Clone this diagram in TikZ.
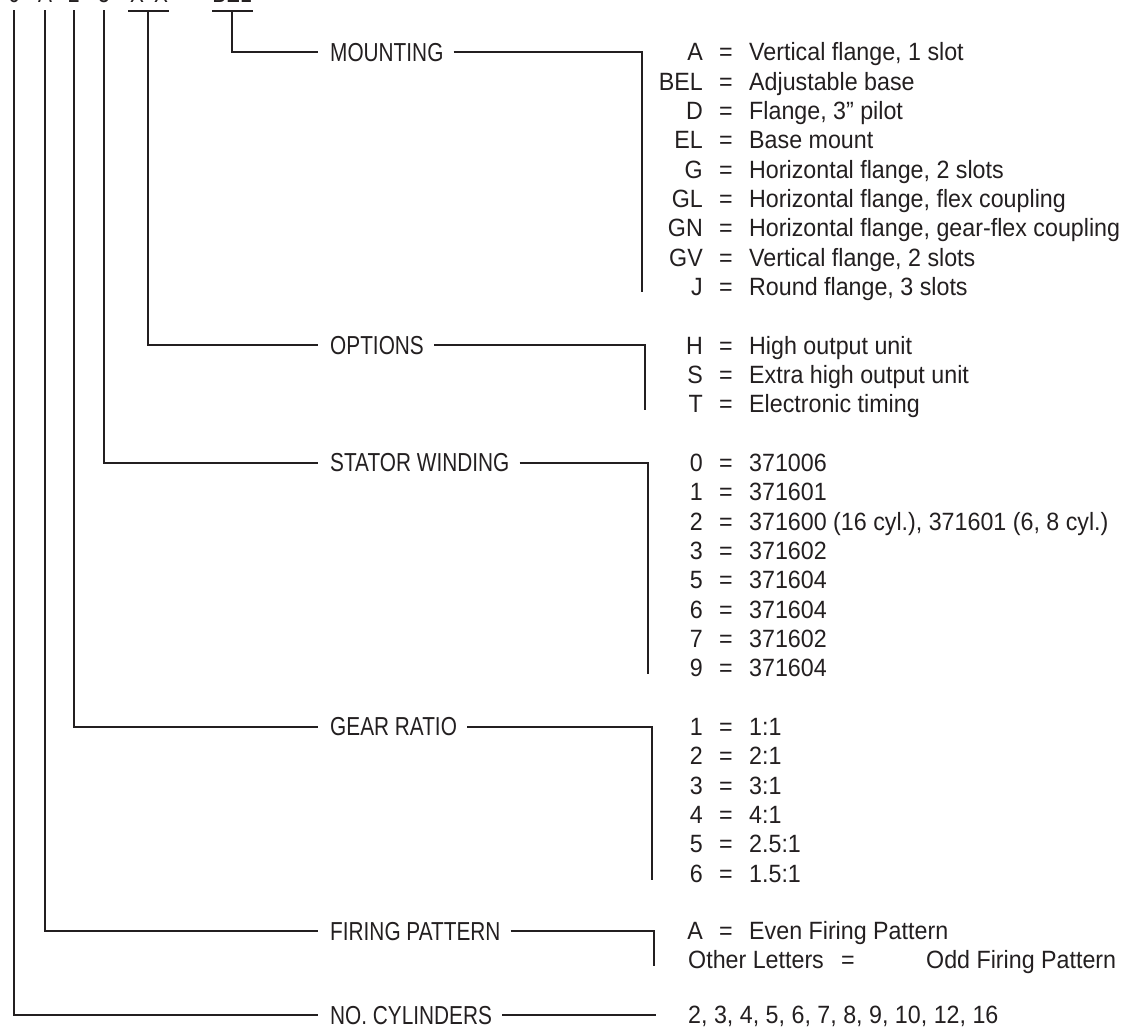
\documentclass[tikz,border=0pt]{standalone}
\usepackage{fontspec}
\setmainfont{Liberation Sans}
\newfontfamily\lblfont[FakeStretch=0.8]{Liberation Sans}
\newfontfamily\itmfont[FakeStretch=0.93]{Liberation Sans}
\definecolor{ink}{HTML}{231F20}
\newcommand\myrow[4]{%
  \node[itm,anchor=base east] (#1k) at (703,#2+8.9) {#3};
  \node[itm,anchor=base] (#1e) at (726,#2+8.9) {=};
  \node[itm,anchor=base west] (#1d) at (749,#2+8.9) {#4};}
\begin{document}
\begin{tikzpicture}[x=1pt,y=-1pt,
  ln/.style={draw=ink,line width=2.1pt},
  lbl/.style={font=\lblfont\fontsize{26}{26}\selectfont,text=ink,inner sep=0pt,anchor=base west},
  itm/.style={font=\itmfont\fontsize{25}{29}\selectfont,text=ink,inner sep=0pt},
  topc/.style={font=\lblfont\fontsize{26}{26}\selectfont,text=ink,inner sep=0pt,anchor=base},
]
\useasboundingbox (0,0) rectangle (1141,1031);
\clip (0,0) rectangle (1141,1031);
% top code (cut off at the top edge, as in the reference)
\node[topc] (t1) at (14,2.5) {6};
\node[topc] (t2) at (45,2.5) {A};
\node[topc] (t3) at (74,2.5) {2};
\node[topc] (t4) at (104,2.5) {3};
\node[topc] (t5) at (137,2.5) {X};
\node[topc] (t6) at (161,2.5) {X};
\node[topc] (t7) at (232,2.5) {BEL};
% labels
\node[lbl] (mnt) at (330,52+9.3) {MOUNTING};
\node[lbl] (opt) at (330,345.3+9.3) {OPTIONS};
\node[lbl] (sta) at (330,462.6+9.3) {STATOR WINDING};
\node[lbl] (gea) at (330,726.6+9.3) {GEAR RATIO};
\node[lbl] (fir) at (330,931+9.3) {FIRING PATTERN};
\node[lbl] (cyl) at (330,1015+9.3) {NO. CYLINDERS};
% tree coordinates
\coordinate (bO) at (148,11);
\coordinate (bM) at (232,11);
% T bars
\draw[ln] (128,11) -- (169,11);
\draw[ln] (212,11) -- (253,11);
% left connectors
\draw[ln] (bM) |- (318,52);
\draw[ln] (bO) |- (318,345.3);
\draw[ln] (104,10) |- (318,462.6);
\draw[ln] (74,10) |- (318,726.6);
\draw[ln] (45,10) |- (318,931);
\draw[ln] (14,10) |- (318,1015);
% right brackets
\draw[ln] ([xshift=10pt]mnt.east |- 0,52) -| (642,292);
\draw[ln] ([xshift=10pt]opt.east |- 0,345.3) -| (645,410);
\draw[ln] ([xshift=10pt]sta.east |- 0,462.6) -| (648,674);
\draw[ln] ([xshift=10pt]gea.east |- 0,726.6) -| (652,880);
\draw[ln] ([xshift=10pt]fir.east |- 0,931) -| (654,966);
\draw[ln] ([xshift=10pt]cyl.east |- 0,1015) -- (656,1015);
% mounting list
\myrow{m1}{52}{A}{Vertical flange, 1 slot}
\myrow{m2}{81.3}{BEL}{Adjustable base}
\myrow{m3}{110.7}{D}{Flange, 3” pilot}
\myrow{m4}{140}{EL}{Base mount}
\myrow{m5}{169.3}{G}{Horizontal flange, 2 slots}
\myrow{m6}{198.7}{GL}{Horizontal flange, flex coupling}
\myrow{m7}{228}{GN}{Horizontal flange, gear-flex coupling}
\myrow{m8}{257.3}{GV}{Vertical flange, 2 slots}
\myrow{m9}{286.6}{J}{Round flange, 3 slots}
% options
\myrow{o1}{345.3}{H}{High output unit}
\myrow{o2}{374.6}{S}{Extra high output unit}
\myrow{o3}{404}{T}{Electronic timing}
% stator
\myrow{s1}{462.6}{0}{371006}
\myrow{s2}{492}{1}{371601}
\myrow{s3}{521.3}{2}{371600 (16 cyl.), 371601 (6, 8 cyl.)}
\myrow{s4}{550.6}{3}{371602}
\myrow{s5}{580}{5}{371604}
\myrow{s6}{609.3}{6}{371604}
\myrow{s7}{638.6}{7}{371602}
\myrow{s8}{668}{9}{371604}
% gear
\myrow{g1}{726.6}{1}{1:1}
\myrow{g2}{756}{2}{2:1}
\myrow{g3}{785.3}{3}{3:1}
\myrow{g4}{814.6}{4}{4:1}
\myrow{g5}{844}{5}{2.5:1}
\myrow{g6}{873.3}{6}{1.5:1}
% firing
\myrow{f1}{931}{A}{Even Firing Pattern}
\node[itm,anchor=base west] (f2k) at (688,960+8.9) {Other Letters};
\node[itm,anchor=base] (f2e) at (848,960+8.9) {=};
\node[itm,anchor=base west] (f2d) at (926,960+8.9) {Odd Firing Pattern};
% cylinders
\node[itm,anchor=base west] (c1) at (688,1015+8.9) {2, 3, 4, 5, 6, 7, 8, 9, 10, 12, 16};
\end{tikzpicture}
\end{document}
